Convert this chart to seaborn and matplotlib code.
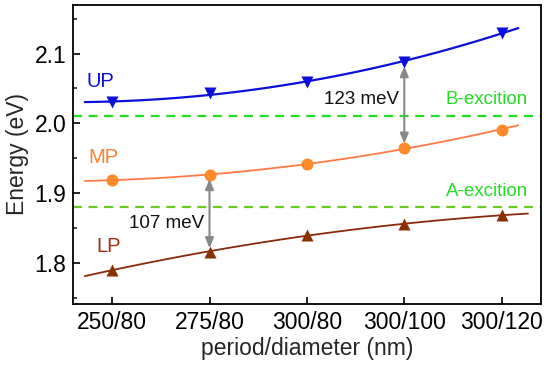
import numpy as np
import pandas as pd
import matplotlib
matplotlib.use("Agg")
import matplotlib.pyplot as plt
import seaborn as sns

categories = ["250/80", "275/80", "300/80", "300/100", "300/120"]
up = [2.030, 2.044, 2.059, 2.088, 2.130]
mp = [1.919, 1.926, 1.941, 1.965, 1.991]
lp = [1.790, 1.815, 1.840, 1.856, 1.868]
b_exciton = 2.010
a_exciton = 1.880

sns.set_theme(style="white")
plt.rcParams['font.family'] = ['Liberation Sans', 'DejaVu Sans']

fig, ax = plt.subplots(figsize=(5.5, 3.72), dpi=100)
fig.subplots_adjust(left=0.133, right=0.983, top=0.987, bottom=0.183)

xpos = np.arange(len(categories))
df = pd.DataFrame({"x": np.tile(xpos, 3),
                   "E": up + mp + lp,
                   "band": ["UP"] * 5 + ["MP"] * 5 + ["LP"] * 5})

series = [
    ("UP", up, "#0a10d8", "#0a10d8", "v", (-0.28, 4.17), 1.6),
    ("MP", mp, "#ff7a45", "#ff8a2a", "o", (-0.28, 4.17), 1.3),
    ("LP", lp, "#8a2808", "#8a3000", "^", (-0.28, 4.27), 1.3),
]
for name, vals, lc, mc, mk, (x0, x1), lw in series:
    coef = np.polyfit(xpos, vals, 2)
    xf = np.linspace(x0, x1, 100)
    sns.lineplot(x=xf, y=np.polyval(coef, xf), ax=ax, color=lc, lw=lw, zorder=2)
    sub = df[df.band == name]
    sns.scatterplot(data=sub, x="x", y="E", ax=ax, marker=mk, color=mc,
                    s=75, edgecolor=mc, linewidth=0, zorder=3)

green = "#22dd22"
ax.axhline(b_exciton, color=green, ls=(0, (4, 3)), lw=1.6, zorder=1)
ax.axhline(a_exciton, color="#66cc22", ls=(0, (4, 3)), lw=1.6, zorder=1)

arrow_kw = dict(arrowstyle="<|-|>,head_length=0.6,head_width=0.25", color="#888888", lw=1.5,
                mutation_scale=10, shrinkA=3, shrinkB=3)
ax.annotate("", xy=(3, up[3]), xytext=(3, mp[3]), arrowprops=arrow_kw)
ax.annotate("", xy=(1, mp[1]), xytext=(1, lp[1]), arrowprops=arrow_kw)

ax.text(2.56, 2.034, "123 meV", fontsize=13.5, ha="center", va="center", color="#111111")
ax.text(0.56, 1.856, "107 meV", fontsize=13.5, ha="center", va="center", color="#111111")
ax.text(3.85, 2.034, "B-excition", fontsize=13.5, ha="center", va="center", color=green)
ax.text(3.85, 1.902, "A-excition", fontsize=13.5, ha="center", va="center", color=green)
ax.text(-0.12, 2.060, "UP", fontsize=14.5, ha="center", va="center", color="#0a10d8")
ax.text(-0.09, 1.951, "MP", fontsize=14.5, ha="center", va="center", color="#ff8030")
ax.text(-0.04, 1.824, "LP", fontsize=14.5, ha="center", va="center", color="#a03010")

ax.set_xlim(-0.4, 4.4)
ax.set_ylim(1.741, 2.17)
ax.set_xticks(xpos)
ax.set_xticklabels(categories)
ax.set_yticks([1.8, 1.9, 2.0, 2.1])
ax.set_yticklabels(["1.8", "1.9", "2.0", "2.1"])
ax.set_yticks([1.75, 1.85, 1.95, 2.05, 2.15], minor=True)
ax.tick_params(axis="both", which="major", direction="in", length=5, width=1.2,
               labelsize=16.5, left=True, bottom=True, pad=5, colors="black")
ax.tick_params(axis="y", which="minor", direction="in", length=3, width=1.2, left=True)
ax.set_xlabel("period/diameter (nm)", fontsize=16.5, labelpad=2)
ax.set_ylabel("Energy (eV)", fontsize=16.5, labelpad=4)
for sp in ax.spines.values():
    sp.set_color("black")
    sp.set_linewidth(1.3)

fig.savefig("out.png", dpi=100)
